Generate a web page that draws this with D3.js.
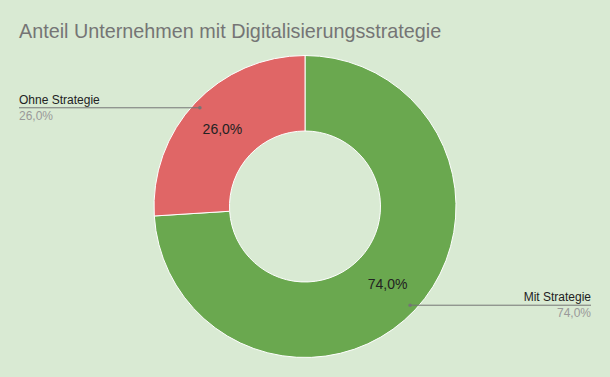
<!DOCTYPE html>
<html>
<head>
<meta charset="utf-8">
<script src="https://cdn.jsdelivr.net/npm/d3@7"></script>
<style>
  html, body { margin: 0; padding: 0; background: #d9ead3; }
  text { font-family: "Liberation Sans", Arial, sans-serif; }
</style>
</head>
<body>
<div id="chart"></div>
<script>
// chart data
var categories = ["Mit Strategie", "Ohne Strategie"];
var shares = [74.0, 26.0];
var colors = ["#6aa84f", "#e06666"];
var title = "Anteil Unternehmen mit Digitalisierungsstrategie";

var width = 610,
    height = 377,
    cx = 305,
    cy = 206.5,
    outerR = 151,
    innerR = 75.5;

var fmt = function(v) { return d3.format(".1f")(v).replace(".", ",") + "%"; };

var svg = d3.select("#chart").append("svg")
    .attr("width", width)
    .attr("height", height);

svg.append("rect")
    .attr("width", width)
    .attr("height", height)
    .attr("fill", "#d9ead3");

svg.append("text")
    .attr("x", 19)
    .attr("y", 38)
    .attr("font-size", 19.8)
    .attr("fill", "#757575")
    .text(title);

var data = categories.map(function(c, i) { return {name: c, value: shares[i], color: colors[i]}; });

var pie = d3.pie().sort(null).value(function(d) { return d.value; });
var arc = d3.arc().innerRadius(innerR).outerRadius(outerR);
var midArc = d3.arc().innerRadius((innerR + outerR) / 2).outerRadius((innerR + outerR) / 2);
var dotArc = d3.arc().innerRadius(outerR * 0.955).outerRadius(outerR * 0.955);

var g = svg.append("g").attr("transform", "translate(" + cx + "," + cy + ")");
var arcs = pie(data);

g.selectAll("path.slice")
  .data(arcs)
  .enter().append("path")
    .attr("class", "slice")
    .attr("d", arc)
    .attr("fill", function(d) { return d.data.color; })
    .attr("stroke", "#ffffff")
    .attr("stroke-width", 1);

g.selectAll("text.inner")
  .data(arcs)
  .enter().append("text")
    .attr("class", "inner")
    .attr("transform", function(d) { return "translate(" + midArc.centroid(d) + ")"; })
    .attr("text-anchor", "middle")
    .attr("dy", "0.35em")
    .attr("font-size", 14)
    .attr("fill", "#222222")
    .text(function(d) { return fmt(d.data.value); });

// callout labels
arcs.forEach(function(d) {
  var p = dotArc.centroid(d);
  var px = cx + p[0], py = cy + p[1];
  var left = px < cx;
  var ex = left ? 19 : 591;
  svg.append("line")
      .attr("x1", px).attr("y1", py)
      .attr("x2", ex).attr("y2", py)
      .attr("stroke", "#757575")
      .attr("stroke-width", 1);
  svg.append("circle")
      .attr("cx", px).attr("cy", py).attr("r", 1.8)
      .attr("fill", "#757575");
  svg.append("text")
      .attr("x", ex).attr("y", py - 4)
      .attr("text-anchor", left ? "start" : "end")
      .attr("font-size", 12)
      .attr("fill", "#222222")
      .text(d.data.name);
  svg.append("text")
      .attr("x", ex).attr("y", py + 12)
      .attr("text-anchor", left ? "start" : "end")
      .attr("font-size", 12)
      .attr("fill", "#999999")
      .text(fmt(d.data.value));
});
</script>
</body>
</html>
